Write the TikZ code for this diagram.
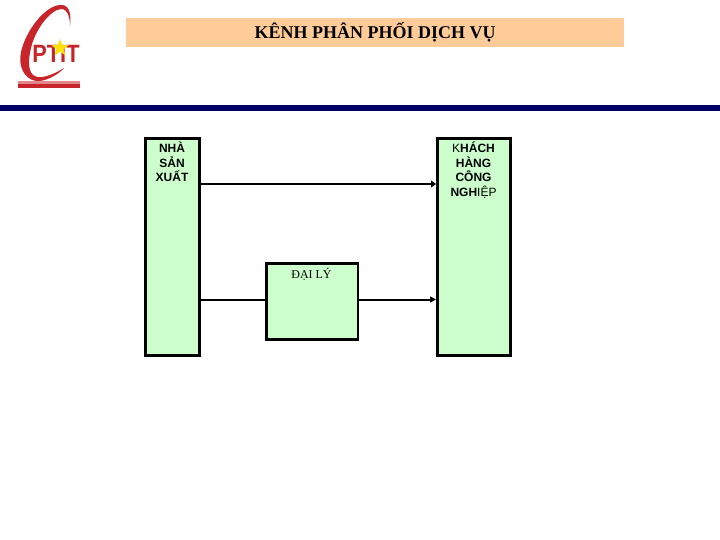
\documentclass[tikz,border=0pt]{standalone}
\usepackage{fontspec}
\setmainfont{Liberation Serif}
\newfontfamily\arialf{Liberation Sans}
\usetikzlibrary{arrows.meta,shapes.geometric}
\definecolor{boxgreen}{HTML}{CCFFCC}
\definecolor{titlepeach}{HTML}{FFCC99}
\definecolor{navybar}{HTML}{000066}
\definecolor{logored}{HTML}{C8252B}
\tikzset{
  x=1pt,y=-1pt,
  greenbox/.style={draw=black,fill=boxgreen,rectangle,inner sep=0pt,anchor=north west},
  boxlabel/.style={align=center,text=black,inner sep=0pt,anchor=north},
  conn/.style={draw=black,-{Triangle[length=6pt,width=6pt]}},
}
\begin{document}
\begin{tikzpicture}
\useasboundingbox (0,0) rectangle (720,540);
\fill[white] (0,0) rectangle (720,540);
% title
\node[fill=titlepeach,minimum width=498pt,minimum height=29pt,inner sep=0pt,anchor=north west,font=\fontsize{18}{20}\selectfont\bfseries] (title) at (126,18) {\raisebox{-0.6pt}{KÊNH PHÂN PHỐI DỊCH VỤ}};
% rule
\fill[navybar] (0,105.5) rectangle (720,111);
% logo
\fill[logored] (70,26) .. controls (72,12) and (68,4) .. (60,5)
  .. controls (45,6) and (26,30) .. (21,52)
  .. controls (18,66) and (24,79) .. (36,81)
  .. controls (45,82) and (58,75) .. (64,68)
  .. controls (56,73) and (45,78) .. (38,77)
  .. controls (29,76) and (27,65) .. (31,48)
  .. controls (35,30) and (50,10) .. (61,9)
  .. controls (68,9) and (70,18) .. (70,26) -- cycle;
\node[font=\arialf\bfseries\fontsize{25}{25}\selectfont,text=logored,inner sep=0pt,xscale=.87] (logotext) at (56,54) {PTIT};
\node[star,star points=5,star point ratio=2.4,fill=yellow!85!orange,inner sep=0pt,minimum size=18pt] (logostar) at (60,48) {};
\fill[logored!55!white] (18,81) rectangle (80,84);
\fill[logored] (18,84) rectangle (80,88);
% boxes
\node[greenbox,line width=3pt,minimum width=54pt,minimum height=217pt] (prod) at (144,137) {};
\node[greenbox,line width=3pt,minimum width=73pt,minimum height=217pt] (cust) at (436,137) {};
\node[greenbox,line width=2.4pt,minimum width=91.5pt,minimum height=76pt] (agent) at (265.2,262.2) {};
% labels
\node[boxlabel,font=\arialf\bfseries\fontsize{12}{14.5}\selectfont] (prodl) at (172,142) {NHÀ\\SẢN\\XUẤT};
\node[boxlabel,font=\arialf\fontsize{12}{14.5}\selectfont] (custl) at (473.5,142) {K\textbf{HÁCH}\\\textbf{HÀNG}\\\textbf{CÔNG}\\\textbf{NGH}IỆP};
\node[font=\fontsize{12}{14}\selectfont,inner sep=0pt,anchor=north] (agentl) at (311.5,267.5) {ĐẠI LÝ};
% connectors
\coordinate (t1) at (prod.east |- 0,184);
\coordinate (t2) at (cust.west |- 0,184);
\coordinate (m1) at (prod.east |- 0,299.5);
\coordinate (m2) at (agent.west |- 0,299.5);
\coordinate (m3) at (agent.east |- 0,299.5);
\coordinate (m4) at (cust.west |- 0,299.5);
\draw[conn,line width=2.8pt,-{Triangle[length=5pt,width=7pt]}] (t1) -- (t2);
\draw[line width=2pt] (m1) -- (m2);
\draw[conn,line width=2pt] (m3) -- (m4);
\end{tikzpicture}
\end{document}
